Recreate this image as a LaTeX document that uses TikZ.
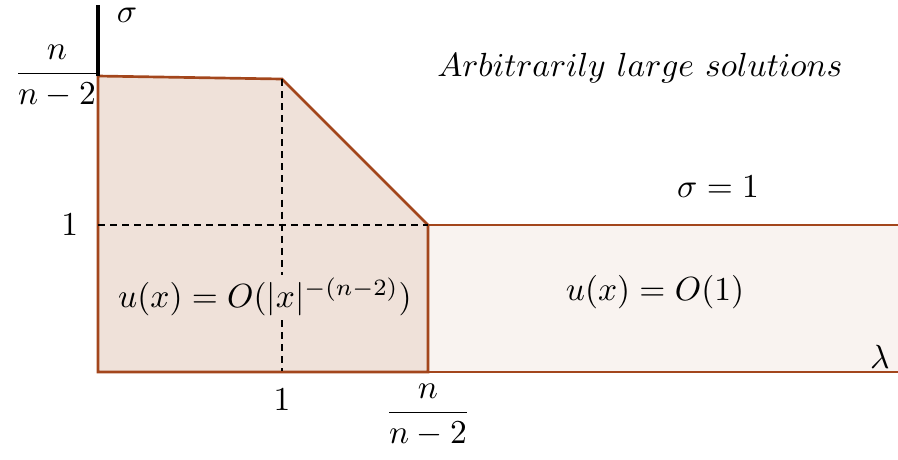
\documentclass[tikz,border=0pt]{standalone}
\usepackage{amsmath,amssymb}
\usepackage{tikz}

\definecolor{edgebrown}{HTML}{A3461C}
\definecolor{lowfill}{HTML}{EFE1D9}
\definecolor{highfill}{HTML}{F9F3F0}

\tikzset{
  region/.style={draw=edgebrown, line width=0.8pt},
  guide/.style={dash pattern=on 2.1pt off 1.5pt, line width=0.5pt},
}

\begin{document}
\begin{tikzpicture}[x=1.05cm, y=1.05cm]
  \useasboundingbox (-0.98,-0.87) rectangle (8.00,3.72);
  \coordinate (O) at (0,0);
  \coordinate (A) at (0,2.96);
  \coordinate (B) at (1.84,2.93);
  \coordinate (C) at (3.30,1.47);
  \coordinate (D) at (3.30,0);
  \coordinate (E) at (8.00,1.47);
  \coordinate (F) at (8.00,0);
  \coordinate (B0) at (1.84,0);
  \coordinate (A1) at (0,1.47);
  % regions
  \fill[highfill] (D) -- (C) -- (E) -- (F) -- cycle;
  \draw[region] (D) -- (C) -- (E);
  \filldraw[region, fill=lowfill] (O) -- (A) -- (B) -- (C) -- (D) -- cycle;
  \draw[guide] (A1) -- (C);
  \draw[guide] (B) -- (B0);
  \draw[line width=1pt] (A) -- (0,3.67);
  \draw[region] (O) -- (F);
  \node[fill=lowfill, inner sep=1pt] (lowlbl) at (1.67,0.75) {$u(x) = O(|x|^{-(n-2)})$};
  \node (highlbl) at (5.57,0.80) {$u(x) = O(1)$};
  % labels
  \node[inner sep=1pt] (sig) at (0.29,3.57) {$\sigma$};
  \node (lam) at (7.82,0.15) {$\lambda$};
  \node (ytop) at (-0.41,2.96) {$\dfrac{n}{n-2}$};
  \node[left] (yone) at (-0.08,1.47) {$1$};
  \node (xone) at (1.84,-0.28) {$1$};
  \node (xcrit) at (3.30,-0.43) {$\dfrac{n}{n-2}$};
  \node (large) at (5.42,3.04) {$Arbitrarily\ large\ solutions$};
  \node (sigone) at (6.20,1.85) {$\sigma = 1$};
\end{tikzpicture}
\end{document}
